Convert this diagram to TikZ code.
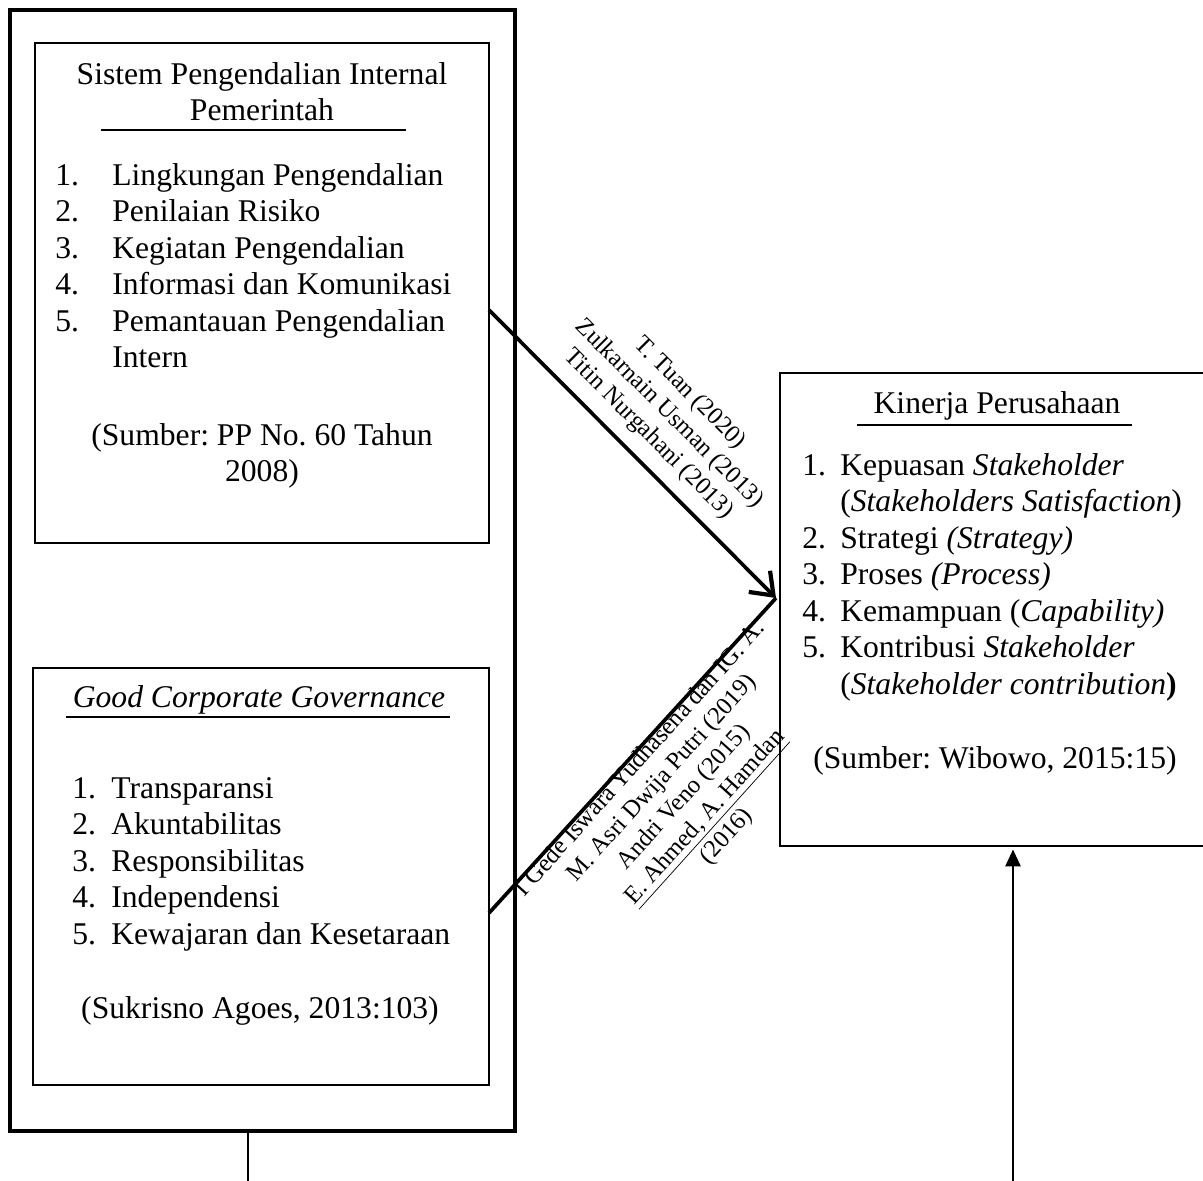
\documentclass[tikz,border=0pt]{standalone}
\usepackage{fontspec}
\setmainfont{Liberation Serif}
\usetikzlibrary{arrows.meta, fit, calc}
\newcommand{\bodyfont}{\fontsize{18}{20.8}\selectfont}
\newcommand{\citefont}{\fontsize{14}{16.5}\selectfont}
\frenchspacing

\begin{document}
\begin{tikzpicture}[x=0.02cm, y=-0.02cm,
    panel/.style={draw, line width=0.9pt, inner sep=0pt},
    frame/.style={draw, line width=2.5pt, inner sep=0pt},
    txt/.style={inner sep=0pt, anchor=base west, font=\bodyfont},
    ttl/.style={inner sep=0pt, anchor=base, font=\bodyfont},
    cite/.style={inner sep=0pt, font=\citefont},
    hrule/.style={line width=0.9pt},
    link/.style={line width=2.1pt},
    stem/.style={line width=1.3pt}]
  \useasboundingbox (0,0) rectangle (1203,1180);
  \clip (0,0) rectangle (1203,1180);

  % ── boxes ──
  \node[frame, fit={(10,10) (515,1131)}] (group) {};
  \node[panel, fit={(35,43) (489,543)}] (spip) {};
  \node[panel, fit={(33,668) (489,1085)}] (gcg) {};
  \node[panel, fit={(780,373) (1212,846)}] (kinerja) {};

  % ── SPIP ──
  \node[ttl] (spiptitle) at (262,84)
        {\begin{tabular}[t]{@{}c@{}}Sistem Pengendalian Internal\\Pemerintah\end{tabular}};
  \draw[hrule] (101,130) -- (406,130);
  \node[txt] (spiplist) at (55,185)
        {\begin{tabular}[t]{@{}p{1.14cm}@{}l@{}}
          1. & Lingkungan Pengendalian\\
          2. & Penilaian Risiko\\
          3. & Kegiatan Pengendalian\\
          4. & Informasi dan Komunikasi\\
          5. & Pemantauan Pengendalian\\
             & Intern
         \end{tabular}};
  \node[ttl] (spipsrc) at (262,445)
        {\begin{tabular}[t]{@{}c@{}}(Sumber: PP No. 60 Tahun\\2008)\end{tabular}};

  % ── GCG ──
  \node[ttl] (gcgtitle) at (259,707) {\textit{Good Corporate Governance}};
  \draw[hrule] (66,717) -- (450,717);
  \node[txt] (gcglist) at (72,798)
        {\begin{tabular}[t]{@{}p{0.78cm}@{}l@{}}
          1. & Transparansi\\
          2. & Akuntabilitas\\
          3. & Responsibilitas\\
          4. & Independensi\\
          5. & Kewajaran dan Kesetaraan
         \end{tabular}};
  \node[ttl] (gcgsrc) at (260,1018) {(Sukrisno Agoes, 2013:103)};

  % ── Kinerja ──
  \node[ttl] (kinerjatitle) at (997,413) {Kinerja Perusahaan};
  \draw[hrule] (857,425) -- (1132,425);
  \node[txt] (kinerjalist) at (802,475)
        {\begin{tabular}[t]{@{}p{0.76cm}@{}l@{}}
          1. & Kepuasan \textit{Stakeholder}\\
             & (\textit{Stakeholders Satisfaction})\\
          2. & Strategi \textit{(Strategy)}\\
          3. & Proses \textit{(Process)}\\
          4. & Kemampuan (\textit{Capability)}\\
          5. & Kontribusi \textit{Stakeholder}\\
             & (\textit{Stakeholder contribution}\textbf{)}
         \end{tabular}};
  \node[ttl] (kinerjasrc) at (995,768) {(Sumber: Wibowo, 2015:15)};

  % ── connectors ──
  \coordinate (spipout) at (489,310);
  \coordinate (gcgout) at (489,913);
  \coordinate (tip) at (776,598);
  \coordinate (baseL) at (248,1185);
  \coordinate (baseR) at (1013,1185);
  \draw[link, -{Straight Barb[length=4mm, width=6mm, line width=2.4pt]}] (spipout) -- (tip);
  \draw[link] (gcgout) -- (tip);
  \draw[stem] (baseL |- group.south) -- (baseL);
  \draw[stem, line width=1.6pt, -{Triangle[length=3.4mm, width=3mm]}, shorten >=1.5pt]
        (baseR) -- (baseR |- kinerja.south);

  % ── references ──
  \node[cite, rotate=-45] (reftop) at (669,414)
        {\begin{tabular}{@{}c@{}}T. Tuan (2020)\\Zulkarnain Usman (2013)\\Titin Nurgahani (2013)\end{tabular}};
  \node[cite, rotate=48] (refbot) at (684,798)
        {\begin{tabular}{@{}c@{}}I Gede Iswara Yudhasena dan IG. A.\\M. Asri Dwija Putri (2019)\\Andri Veno (2015)\\
         \underline{E. Ahmed, A. Hamdan}\\(2016)\end{tabular}};
\end{tikzpicture}
\end{document}
